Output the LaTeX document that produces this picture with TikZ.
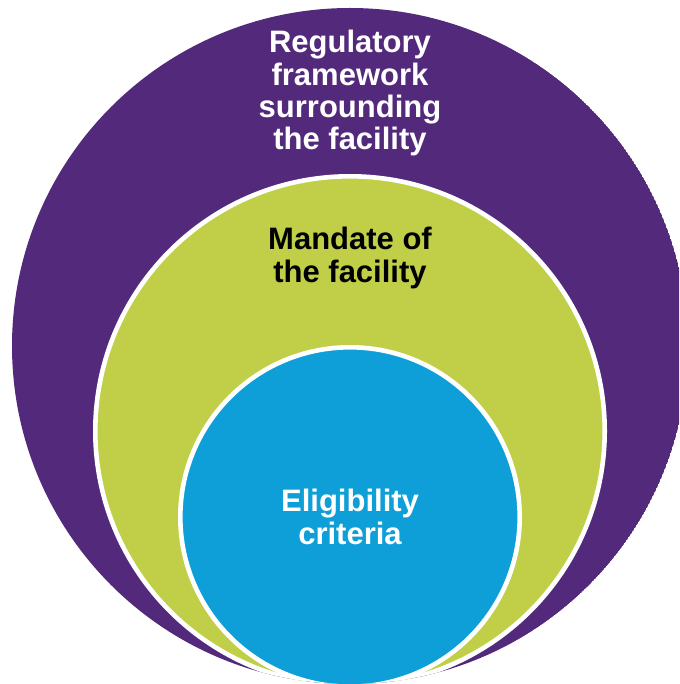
\documentclass[tikz,border=0pt]{standalone}
\usepackage{fontspec}
\setmainfont{Liberation Sans}
\definecolor{purp}{RGB}{83,42,123}
\definecolor{limeg}{RGB}{192,207,71}
\definecolor{skyb}{RGB}{14,159,216}
\begin{document}
\begin{tikzpicture}[x=1pt,y=-1pt,
  lbl/.style={font=\bfseries\fontsize{31}{32.4}\selectfont, align=center, anchor=base, inner sep=0pt},
  ring/.style={draw=white, line width=4.6pt}]
\useasboundingbox (0,0) rectangle (679,684);
\begin{scope}
  \clip (0,0) rectangle (679,684);
  \clip (350,346) circle[radius=338pt];
  \fill[purp] (350,346) circle[radius=338pt];
  \filldraw[ring, fill=limeg] (350,431) circle[radius=254.7pt];
  \filldraw[ring, fill=skyb] (350,517) circle[radius=169.7pt];
\end{scope}
\node[lbl, text=white] (reg) at (350,150) {Regulatory\\framework\\surrounding\\the facility};
\node[lbl, text=black] (man) at (350,282) {Mandate of\\the facility};
\node[lbl, text=white] (eli) at (350,544) {Eligibility\\criteria};
\end{tikzpicture}
\end{document}
